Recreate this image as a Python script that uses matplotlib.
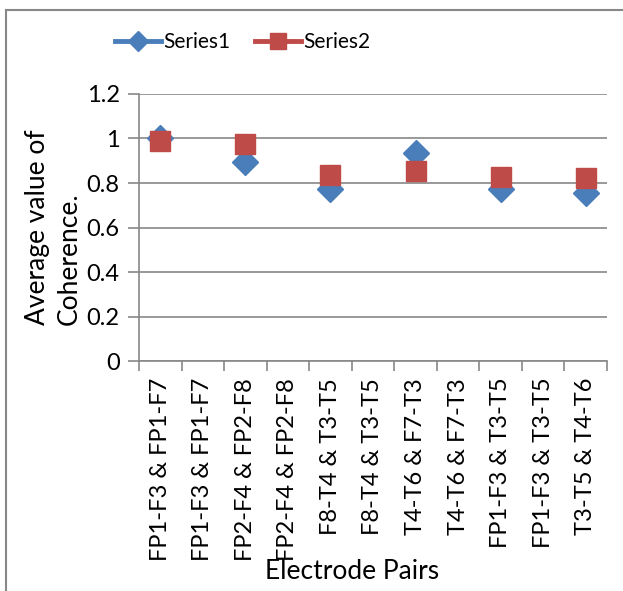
import numpy as np
import matplotlib
matplotlib.use('Agg')
import matplotlib.pyplot as plt
from matplotlib.patches import Rectangle

# ---- 数据 ----
categories = ['FP1-F3 & FP1-F7', 'FP1-F3 & FP1-F7', 'FP2-F4 & FP2-F8', 'FP2-F4 & FP2-F8',
              'F8-T4 & T3-T5', 'F8-T4 & T3-T5', 'T4-T6 & F7-T3', 'T4-T6 & F7-T3',
              'FP1-F3 & T3-T5', 'FP1-F3 & T3-T5', 'T3-T5 & T4-T6']
series1 = [1.0, None, 0.895, None, 0.775, None, 0.937, None, 0.775, None, 0.755]
series2 = [0.988, None, 0.977, None, 0.835, None, 0.855, None, 0.825, None, 0.822]

plt.rcParams['font.family'] = ['Lato', 'DejaVu Sans']

fig = plt.figure(figsize=(6.23, 5.91), dpi=100)
ax = fig.add_axes([0.2231, 0.389, 0.7512, 0.452])

# ---- 外框 ----
fig.patches.append(Rectangle((6 / 623, -0.05), 1.0, 1 - 10 / 591 + 0.05, transform=fig.transFigure,
                             fill=False, edgecolor='#888888', linewidth=1.5))

x = np.arange(len(categories))
y1 = np.array([np.nan if v is None else v for v in series1])
y2 = np.array([np.nan if v is None else v for v in series2])

ax.plot(x, y1, linestyle='none', marker='D', markersize=13, color='#4a7ebb', label='Series1', zorder=3)
ax.plot(x, y2, linestyle='none', marker='s', markersize=15, color='#be4b48', label='Series2', zorder=4)

# ---- 坐标轴 ----
ax.set_xlim(-0.5, len(categories) - 0.5)
ax.set_ylim(0, 1.2)
ax.set_yticks([0, 0.2, 0.4, 0.6, 0.8, 1.0, 1.2])
ax.set_yticklabels(['0', '0.2', '0.4', '0.6', '0.8', '1', '1.2'], fontsize=17)
ax.set_xticks(x)
ax.set_xticklabels(categories, rotation=90, fontsize=17)
ax.tick_params(axis='x', length=0, pad=12)
ax.set_xticks(np.arange(-0.5, len(categories)), minor=True)
ax.tick_params(axis='x', which='minor', length=7, color='#888888', width=1.2)
ax.tick_params(axis='y', length=8, color='#888888', width=1.2, pad=6)
ax.grid(axis='y', color='#888888', linewidth=1.2)
ax.set_axisbelow(True)
for side in ['top', 'right']:
    ax.spines[side].set_visible(False)
for side in ['left', 'bottom']:
    ax.spines[side].set_color('#888888')
    ax.spines[side].set_linewidth(1.2)

ax.set_xlabel('Electrode Pairs', fontsize=19)
ax.xaxis.set_label_coords(0.455, -0.74)
fig.text(0.086, 0.616, 'Average value of\nCoherence.', rotation=90, fontsize=19,
         ha='center', va='center', multialignment='left', linespacing=1.35)

# ---- 图例 ----
h1, = ax.plot([], [], color='#4a7ebb', linewidth=3.5, marker='D', markersize=10)
h2, = ax.plot([], [], color='#be4b48', linewidth=3.5, marker='s', markersize=12)
fig.legend([h1, h2], ['Series1', 'Series2'], loc='center', bbox_to_anchor=(0.39, 0.929),
           ncol=2, frameon=False, fontsize=15, handlelength=2.2, handletextpad=0.1,
           columnspacing=1.2)

fig.savefig('out.png', dpi=100)
